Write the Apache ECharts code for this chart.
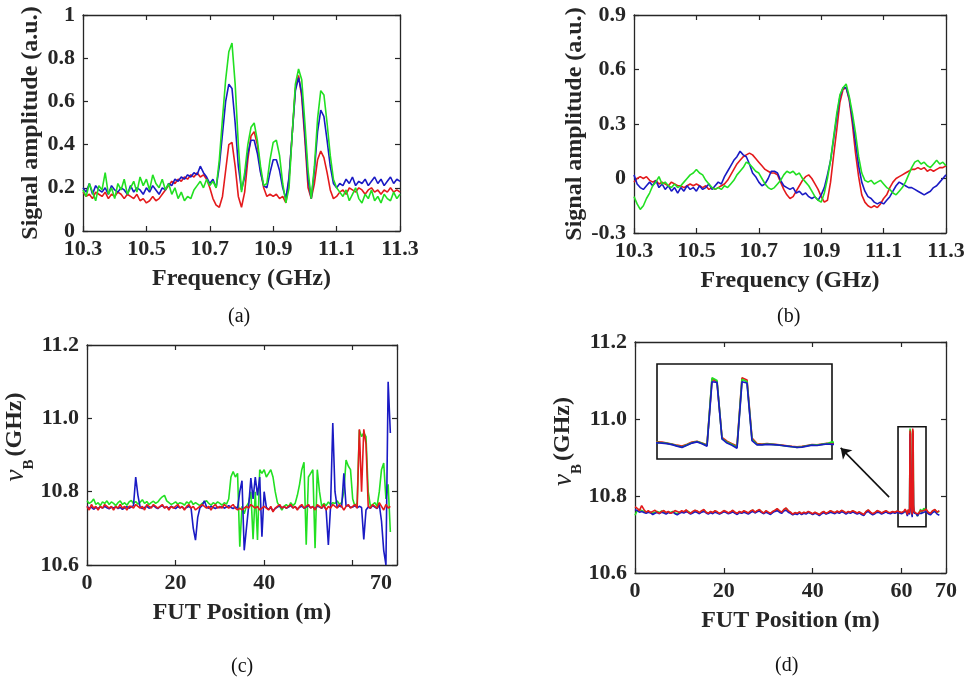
<!DOCTYPE html>
<html>
<head>
<meta charset="utf-8">
<title>BOTDA spectra and BFS profiles</title>
<script src="https://cdn.jsdelivr.net/npm/echarts@6.0.0/dist/echarts.min.js"></script>
<style>
  html, body { margin: 0; padding: 0; background: #fff; }
  #main { width: 968px; height: 680px; }
</style>
</head>
<body>
<div id="main"></div>
<script>
// ---- data ----
// (a), (b): spectra sampled every 10 MHz from 10.30 to 11.30 GHz
const freqStart = 10.3, freqStep = 0.01, freqCount = 101;

const aRed = [0.18,0.16,0.17,0.15,0.18,0.17,0.16,0.18,0.15,0.17,
  0.16,0.18,0.17,0.15,0.17,0.16,0.15,0.17,0.14,0.15,
  0.13,0.14,0.16,0.14,0.15,0.17,0.19,0.21,0.23,0.22,
  0.24,0.23,0.25,0.24,0.26,0.25,0.27,0.25,0.26,0.24,
  0.20,0.15,0.12,0.11,0.16,0.28,0.40,0.41,0.30,0.16,
  0.11,0.18,0.33,0.44,0.46,0.40,0.28,0.20,0.16,0.17,
  0.16,0.17,0.15,0.16,0.13,0.24,0.45,0.66,0.72,0.62,
  0.42,0.20,0.15,0.22,0.33,0.37,0.34,0.27,0.19,0.15,
  0.16,0.18,0.19,0.17,0.20,0.19,0.18,0.20,0.19,0.17,
  0.19,0.20,0.18,0.19,0.17,0.19,0.18,0.20,0.18,0.19,
  0.18];
const aBlue = [0.20,0.18,0.22,0.17,0.21,0.19,0.18,0.20,0.17,0.21,
  0.19,0.18,0.20,0.19,0.17,0.21,0.18,0.20,0.19,0.17,
  0.20,0.18,0.21,0.19,0.17,0.20,0.19,0.22,0.21,0.24,
  0.23,0.25,0.24,0.26,0.25,0.27,0.26,0.30,0.27,0.25,
  0.22,0.24,0.20,0.30,0.45,0.60,0.68,0.66,0.50,0.30,
  0.19,0.25,0.36,0.42,0.42,0.36,0.27,0.21,0.20,0.27,
  0.33,0.33,0.28,0.20,0.15,0.25,0.45,0.65,0.71,0.64,
  0.45,0.24,0.15,0.28,0.46,0.56,0.53,0.42,0.30,0.22,
  0.20,0.22,0.21,0.24,0.22,0.25,0.21,0.23,0.22,0.24,
  0.21,0.23,0.25,0.22,0.24,0.21,0.23,0.25,0.22,0.24,
  0.23];
const aGreen = [0.19,0.16,0.22,0.18,0.14,0.21,0.19,0.27,0.17,0.20,
  0.15,0.22,0.19,0.24,0.17,0.20,0.23,0.18,0.25,0.21,
  0.24,0.19,0.26,0.22,0.20,0.24,0.19,0.22,0.17,0.20,
  0.15,0.18,0.14,0.16,0.15,0.19,0.21,0.23,0.20,0.24,
  0.21,0.23,0.20,0.33,0.52,0.70,0.83,0.87,0.68,0.40,
  0.18,0.27,0.40,0.48,0.50,0.42,0.30,0.21,0.22,0.33,
  0.41,0.42,0.35,0.22,0.13,0.20,0.45,0.68,0.75,0.70,
  0.50,0.28,0.15,0.30,0.52,0.65,0.63,0.50,0.35,0.24,
  0.20,0.18,0.16,0.19,0.14,0.17,0.20,0.15,0.13,0.17,
  0.15,0.19,0.14,0.16,0.13,0.17,0.15,0.14,0.18,0.15,
  0.17];

const bRed = [-0.02,0.00,0.01,0.00,0.01,-0.01,-0.02,-0.01,-0.03,-0.02,
  -0.03,-0.04,-0.02,-0.03,-0.04,-0.04,-0.05,-0.04,-0.03,-0.04,
  -0.03,-0.04,-0.05,-0.04,-0.06,-0.05,-0.06,-0.05,-0.04,-0.03,
  -0.01,0.02,0.05,0.08,0.10,0.12,0.13,0.14,0.13,0.11,
  0.09,0.07,0.05,0.04,0.03,0.03,0.02,-0.02,-0.06,-0.09,
  -0.11,-0.10,-0.07,-0.04,-0.01,0.01,0.02,0.00,-0.03,-0.06,
  -0.10,-0.13,-0.12,-0.02,0.13,0.27,0.42,0.49,0.50,0.43,
  0.30,0.14,0.01,-0.09,-0.13,-0.15,-0.16,-0.15,-0.16,-0.14,
  -0.11,-0.09,-0.05,-0.02,0.00,0.01,0.02,0.03,0.04,0.05,
  0.05,0.06,0.05,0.06,0.04,0.05,0.04,0.05,0.06,0.06,
  0.07];
const bBlue = [0.02,-0.03,-0.05,-0.06,-0.04,-0.02,-0.04,-0.01,-0.05,-0.03,
  -0.06,-0.04,-0.07,-0.05,-0.08,-0.05,-0.07,-0.04,-0.06,-0.05,
  -0.07,-0.04,-0.06,-0.05,-0.03,-0.06,-0.04,-0.02,-0.03,0.01,
  0.04,0.07,0.10,0.12,0.15,0.13,0.12,0.08,0.03,0.01,
  -0.02,-0.04,-0.03,0.00,0.04,0.04,0.03,-0.01,-0.04,-0.05,
  -0.06,-0.05,-0.08,-0.07,-0.09,-0.08,-0.10,-0.11,-0.10,-0.12,
  -0.09,-0.05,0.02,0.10,0.22,0.34,0.45,0.50,0.50,0.44,
  0.33,0.20,0.07,-0.02,-0.07,-0.10,-0.11,-0.13,-0.14,-0.13,
  -0.14,-0.12,-0.10,-0.07,-0.04,-0.02,-0.03,-0.04,-0.05,-0.05,
  -0.06,-0.07,-0.08,-0.09,-0.08,-0.07,-0.05,-0.04,-0.02,0.00,
  0.02];
const bGreen = [-0.10,-0.14,-0.17,-0.15,-0.11,-0.08,-0.04,-0.02,0.01,-0.03,
  -0.02,-0.04,-0.05,-0.03,-0.05,-0.04,-0.02,0.00,0.02,0.03,
  0.05,0.03,0.02,-0.01,-0.03,-0.05,-0.06,-0.05,-0.06,-0.04,
  -0.05,-0.03,-0.01,0.02,0.04,0.06,0.09,0.08,0.06,0.04,
  0.03,0.00,-0.03,-0.05,-0.06,-0.05,-0.03,-0.01,0.02,0.04,
  0.03,0.04,0.02,0.03,0.00,-0.02,-0.04,-0.07,-0.10,-0.12,
  -0.13,-0.08,0.00,0.10,0.23,0.36,0.46,0.50,0.52,0.45,
  0.36,0.25,0.12,0.03,-0.01,-0.02,-0.01,-0.03,-0.02,-0.01,
  -0.03,-0.05,-0.06,-0.08,-0.09,-0.07,-0.05,-0.02,0.02,0.06,
  0.09,0.10,0.08,0.09,0.07,0.06,0.08,0.10,0.08,0.09,
  0.07];

// (c): BFS along the fibre, every 0.5 m from 0 to 68.5 m
const posStep = 0.5, cCount = 138;
const cRed = [10.76,10.75,10.765,10.755,10.76,10.75,10.76,10.755,10.765,10.76,
  10.755,10.76,10.75,10.76,10.755,10.765,10.755,10.76,10.75,10.76,
  10.76,10.755,10.765,10.76,10.755,10.76,10.75,10.765,10.76,10.755,
  10.765,10.76,10.755,10.76,10.765,10.755,10.76,10.75,10.76,10.755,
  10.76,10.765,10.755,10.76,10.75,10.76,10.765,10.755,10.76,10.75,
  10.755,10.76,10.765,10.76,10.755,10.76,10.75,10.76,10.765,10.755,
  10.76,10.755,10.765,10.76,10.755,10.76,10.765,10.755,10.75,10.755,
  10.75,10.755,10.76,10.755,10.765,10.76,10.755,10.76,10.75,10.755,
  10.76,10.755,10.75,10.76,10.745,10.755,10.76,10.765,10.755,10.76,
  10.755,10.76,10.765,10.755,10.76,10.75,10.76,10.765,10.755,10.76,
  10.765,10.755,10.76,10.75,10.765,10.76,10.755,10.765,10.75,10.76,
  10.755,10.765,10.76,10.755,10.765,10.76,10.75,10.76,10.765,10.755,
  10.76,10.765,10.755,10.97,10.8,10.97,10.93,10.76,10.755,10.765,
  10.76,10.755,10.77,10.76,10.75,10.765,10.755,10.76];
const cBlue = [10.76,10.755,10.758,10.752,10.757,10.754,10.759,10.755,10.76,10.756,
  10.753,10.758,10.755,10.759,10.754,10.757,10.752,10.756,10.759,10.755,
  10.758,10.762,10.84,10.79,10.758,10.754,10.757,10.76,10.755,10.758,
  10.762,10.757,10.754,10.759,10.762,10.756,10.758,10.755,10.76,10.757,
  10.754,10.759,10.756,10.758,10.753,10.757,10.76,10.755,10.7,10.668,
  10.73,10.756,10.762,10.775,10.758,10.755,10.76,10.757,10.754,10.758,
  10.756,10.759,10.755,10.758,10.762,10.757,10.754,10.758,10.755,10.8,
  10.83,10.64,10.7,10.76,10.837,10.78,10.84,10.79,10.84,10.677,
  10.8,10.757,10.752,10.756,10.748,10.754,10.758,10.761,10.756,10.759,
  10.755,10.758,10.762,10.756,10.759,10.753,10.757,10.761,10.755,10.758,
  10.762,10.756,10.759,10.752,10.761,10.758,10.755,10.762,10.75,10.655,
  10.76,10.987,10.8,10.757,10.761,10.758,10.85,10.76,10.762,10.757,
  10.758,10.762,10.756,10.76,10.757,10.67,10.75,10.758,10.755,10.762,
  10.758,10.754,10.765,10.72,10.64,10.6,11.1,10.96];
const cGreen = [10.775,10.768,10.772,10.78,10.765,10.77,10.762,10.772,10.768,10.775,
  10.765,10.772,10.768,10.762,10.77,10.775,10.765,10.77,10.763,10.772,
  10.776,10.768,10.773,10.766,10.771,10.778,10.768,10.773,10.765,10.77,
  10.774,10.768,10.772,10.78,10.786,10.79,10.775,10.77,10.765,10.768,
  10.772,10.766,10.77,10.768,10.763,10.772,10.768,10.775,10.765,10.77,
  10.766,10.762,10.768,10.772,10.775,10.768,10.763,10.77,10.766,10.772,
  10.768,10.763,10.77,10.766,10.78,10.84,10.855,10.84,10.85,10.65,
  10.76,10.74,10.76,10.77,10.8,10.67,10.8,10.668,10.86,10.85,
  10.86,10.84,10.85,10.86,10.84,10.8,10.77,10.76,10.75,10.76,
  10.765,10.758,10.77,10.762,10.768,10.79,10.82,10.86,10.88,10.655,
  10.84,10.85,10.86,10.646,10.86,10.8,10.76,10.768,10.762,10.772,
  10.765,10.77,10.768,10.775,10.766,10.77,10.8,10.886,10.87,10.86,
  10.78,10.76,10.77,10.968,10.95,10.96,10.95,10.8,10.76,10.765,
  10.77,10.76,10.8,10.86,10.878,10.78,10.82,10.69];

// (d): 0.5 m steps to 60.5 m, 0.1 m steps over the hot spot (60.8-64.3 m), 0.5 m steps 64.5-68.5 m
const dCoarseCount = 122, dFineStart = 60.8, dFineStep = 0.1, dFineCount = 36, dTailStart = 64.5, dTailCount = 9;
const dRedCoarse = [10.772,10.768,10.762,10.775,10.765,10.758,10.762,10.757,10.76,10.763,
  10.758,10.755,10.76,10.762,10.757,10.76,10.755,10.758,10.762,10.76,
  10.757,10.762,10.759,10.764,10.758,10.755,10.76,10.763,10.761,10.757,
  10.762,10.765,10.758,10.755,10.76,10.757,10.762,10.759,10.755,10.758,
  10.762,10.76,10.756,10.759,10.763,10.758,10.755,10.76,10.757,10.762,
  10.759,10.756,10.761,10.764,10.758,10.762,10.765,10.759,10.756,10.762,
  10.758,10.755,10.76,10.763,10.767,10.762,10.758,10.765,10.769,10.762,
  10.758,10.753,10.757,10.755,10.759,10.754,10.758,10.756,10.76,10.757,
  10.754,10.758,10.755,10.752,10.757,10.76,10.755,10.758,10.762,10.759,
  10.757,10.761,10.758,10.763,10.76,10.756,10.76,10.758,10.762,10.759,
  10.756,10.759,10.755,10.752,10.76,10.764,10.758,10.754,10.757,10.762,
  10.76,10.756,10.759,10.762,10.758,10.757,10.76,10.758,10.761,10.759,
  10.757,10.76];
const dRedFine = [10.766,10.765,10.762,10.759,10.755,10.752,10.758,10.765,10.768,10.762,
  10.756,10.97,10.962,10.78,10.768,10.76,10.752,10.975,10.968,10.778,
  10.76,10.759,10.76,10.759,10.757,10.755,10.753,10.751,10.75,10.751,
  10.754,10.757,10.756,10.759,10.761,10.76];
const dRedTail = [10.758,10.762,10.766,10.758,10.755,10.762,10.765,10.758,10.762];
const dBlueCoarse = [10.765,10.762,10.758,10.76,10.757,10.755,10.758,10.756,10.752,10.755,
  10.757,10.754,10.758,10.756,10.753,10.757,10.755,10.758,10.754,10.751,
  10.755,10.758,10.756,10.759,10.757,10.753,10.756,10.759,10.757,10.754,
  10.758,10.76,10.756,10.753,10.757,10.754,10.758,10.756,10.753,10.756,
  10.759,10.757,10.754,10.756,10.759,10.755,10.752,10.757,10.755,10.758,
  10.756,10.753,10.757,10.76,10.756,10.759,10.761,10.757,10.754,10.758,
  10.755,10.752,10.757,10.76,10.762,10.758,10.755,10.761,10.763,10.758,
  10.755,10.751,10.754,10.752,10.756,10.752,10.755,10.753,10.757,10.755,
  10.752,10.755,10.753,10.749,10.754,10.757,10.753,10.755,10.758,10.756,
  10.754,10.758,10.755,10.759,10.757,10.753,10.757,10.755,10.759,10.756,
  10.753,10.756,10.752,10.749,10.757,10.76,10.755,10.751,10.754,10.758,
  10.757,10.753,10.756,10.759,10.755,10.754,10.757,10.755,10.758,10.756,
  10.754,10.757];
const dBlueFine = [10.763,10.762,10.76,10.757,10.752,10.748,10.755,10.762,10.766,10.76,
  10.752,10.962,10.96,10.776,10.762,10.755,10.745,10.962,10.958,10.77,
  10.756,10.756,10.758,10.757,10.756,10.754,10.752,10.75,10.748,10.749,
  10.752,10.755,10.754,10.757,10.759,10.758];
const dBlueTail = [10.755,10.758,10.76,10.754,10.751,10.757,10.76,10.753,10.75];
const dGreenCoarse = [10.75,10.762,10.765,10.762,10.76,10.757,10.76,10.758,10.755,10.758,
  10.76,10.757,10.761,10.758,10.755,10.759,10.757,10.76,10.756,10.754,
  10.758,10.76,10.758,10.762,10.76,10.756,10.758,10.762,10.76,10.756,
  10.76,10.763,10.758,10.755,10.759,10.756,10.761,10.758,10.754,10.757,
  10.761,10.759,10.755,10.758,10.762,10.757,10.754,10.759,10.756,10.76,
  10.758,10.755,10.76,10.763,10.757,10.761,10.764,10.759,10.755,10.76,
  10.757,10.754,10.759,10.762,10.766,10.76,10.757,10.763,10.768,10.76,
  10.757,10.752,10.756,10.754,10.758,10.753,10.757,10.755,10.759,10.756,
  10.753,10.757,10.754,10.751,10.756,10.759,10.754,10.757,10.761,10.758,
  10.756,10.76,10.757,10.762,10.759,10.755,10.759,10.757,10.761,10.758,
  10.755,10.758,10.754,10.751,10.759,10.763,10.757,10.753,10.756,10.761,
  10.759,10.755,10.758,10.761,10.757,10.756,10.759,10.757,10.76,10.758,
  10.756,10.759];
const dGreenFine = [10.764,10.763,10.761,10.758,10.753,10.749,10.756,10.763,10.767,10.761,
  10.754,10.975,10.966,10.776,10.765,10.757,10.748,10.97,10.962,10.774,
  10.758,10.757,10.759,10.758,10.756,10.754,10.752,10.75,10.748,10.75,
  10.753,10.756,10.755,10.758,10.76,10.766];
const dGreenTail = [10.757,10.768,10.764,10.757,10.754,10.76,10.764,10.757,10.76];

// axis ticks
const freqTicks = { min: 10.3, max: 11.3, step: 0.2 };
const ampTicksA = { min: 0, max: 1, step: 0.2 };
const ampTicksB = { min: -0.3, max: 0.9, step: 0.3 };
const posTicks = { min: 0, max: 70, step: 20 };
const bfsTicks = { min: 10.6, max: 11.2, step: 0.2 };
// zoomed region shown in the inset of (d) and the box drawn round it
const insetX = [60.8, 64.3], insetY = [10.71, 11.02];
const boxX = [59.2, 65.5], boxY = [10.72, 10.98];
const arrowFrom = [57.2, 10.797], arrowTo = [46.3, 10.925];

// ---- build ----
const freq = [];
for (let i = 0; i < freqCount; i++) freq.push(+(freqStart + i * freqStep).toFixed(2));
const posC = [];
for (let i = 0; i < cCount; i++) posC.push(i * posStep);
const posD = [];
for (let i = 0; i < dCoarseCount; i++) posD.push(i * posStep);
for (let i = 0; i < dFineCount; i++) posD.push(+(dFineStart + i * dFineStep).toFixed(1));
for (let i = 0; i < dTailCount; i++) posD.push(dTailStart + i * posStep);
const dRed = dRedCoarse.concat(dRedFine, dRedTail);
const dBlue = dBlueCoarse.concat(dBlueFine, dBlueTail);
const dGreen = dGreenCoarse.concat(dGreenFine, dGreenTail);

const pairs = (xs, ys) => ys.map((y, i) => [xs[i], y]);

const RED = '#e41a1c', BLUE = '#1a1ac4', GREEN = '#22e022';
const INK = '#262626';
const FONT = 'Liberation Serif';
const f1 = v => v.toFixed(1);

function xAxes(g, t, fmt, name, nameGap, rich) {
    const common = {
        type: 'value', gridIndex: g, min: t.min, max: t.max, interval: t.step,
        axisLine: { onZero: false, lineStyle: { color: INK, width: 1.3 } },
        axisTick: { inside: true, length: 5, lineStyle: { color: INK, width: 1.2 } },
        splitLine: { show: false }
    };
    return [
        Object.assign({}, common, {
            position: 'bottom',
            axisLabel: { color: INK, fontFamily: FONT, fontWeight: 'bold', fontSize: 22, margin: 7,
                         showMinLabel: true, showMaxLabel: true, formatter: fmt, rich: rich },
            name: name, nameLocation: 'middle', nameGap: 36,
            nameTextStyle: { color: INK, fontFamily: FONT, fontWeight: 'bold', fontSize: 24 }
        }),
        Object.assign({}, common, { position: 'top', axisLabel: { show: false } })
    ];
}

function yAxes(g, t, fmt, name, nameGap, nameStyle) {
    const common = {
        type: 'value', gridIndex: g, min: t.min, max: t.max, interval: t.step,
        axisLine: { onZero: false, lineStyle: { color: INK, width: 1.3 } },
        axisTick: { inside: true, length: 5, lineStyle: { color: INK, width: 1.2 } },
        splitLine: { show: false }
    };
    return [
        Object.assign({}, common, {
            position: 'left',
            axisLabel: { color: INK, fontFamily: FONT, fontWeight: 'bold', fontSize: 22, margin: 8,
                         showMinLabel: true, showMaxLabel: true, formatter: fmt },
            name: name, nameLocation: 'middle', nameGap: nameGap,
            nameTextStyle: nameStyle || { color: INK, fontFamily: FONT, fontWeight: 'bold', fontSize: 24 }
        }),
        Object.assign({}, common, { position: 'right', axisLabel: { show: false } })
    ];
}

const nuStyle = (shift) => ({
    color: INK,
    rich: {
        nu: { fontFamily: FONT, fontStyle: 'italic', fontSize: 27, color: INK, verticalAlign: 'top', lineHeight: 26, padding: [0, 0, 0, shift] },
        sub: { fontFamily: FONT, fontWeight: 'bold', fontSize: 15, color: INK, verticalAlign: 'top', lineHeight: 16, padding: [19, 3, 0, 0] },
        t: { fontFamily: FONT, fontWeight: 'bold', fontSize: 24, color: INK, verticalAlign: 'top', lineHeight: 26 }
    }
});
const nuName = '{nu|ν}{sub|B}{t|(GHz)}';

// (c) lost its "60" label and shows "70" shifted left
const cPosFmt = v => (v === 60 ? '' : v === 70 ? '{s|70}' : String(v));
const cPosRich = { s: { fontFamily: FONT, fontWeight: 'bold', fontSize: 22, color: INK, padding: [0, 32, 0, 0] } };

function line(name, color, xi, yi, data, extra) {
    return Object.assign({
        name: name, type: 'line', xAxisIndex: xi, yAxisIndex: yi, data: data,
        showSymbol: false, symbol: 'none', lineStyle: { color: color, width: 1.6 },
        itemStyle: { color: color }, animation: false, silent: true
    }, extra || {});
}

const chart = echarts.init(document.getElementById('main'), null, { renderer: 'canvas' });

const xs = [].concat(
    xAxes(0, freqTicks, f1, 'Frequency (GHz)'),
    xAxes(1, freqTicks, f1, 'Frequency (GHz)'),
    xAxes(2, posTicks, cPosFmt, 'FUT Position (m)', 0, cPosRich),
    xAxes(3, posTicks, v => String(v), 'FUT Position (m)'),
    [{ type: 'value', gridIndex: 4, min: insetX[0], max: insetX[1], show: false }]
);
const ys = [].concat(
    yAxes(0, ampTicksA, v => String(+v.toFixed(1)), 'Signal amplitude (a.u.)', 40),
    yAxes(1, ampTicksB, v => String(+v.toFixed(1)), 'Signal amplitude (a.u.)', 46),
    yAxes(2, bfsTicks, f1, nuName, 41, nuStyle(36)),
    yAxes(3, bfsTicks, f1, nuName, 41, nuStyle(32)),
    [{ type: 'value', gridIndex: 4, min: insetY[0], max: insetY[1], show: false }]
);

const option = {
    backgroundColor: '#ffffff',
    animation: false,
    grid: [
        { left: 83, top: 15, width: 317, height: 216 },
        { left: 634, top: 15, width: 312, height: 218 },
        { left: 87, top: 345, width: 310, height: 220 },
        { left: 635, top: 342, width: 311, height: 231 },
        { left: 657, top: 364, width: 175, height: 95, show: true, backgroundColor: '#fff',
          borderColor: '#111', borderWidth: 1.6, z: 5 }
    ],
    xAxis: xs,
    yAxis: ys,
    series: [
        line('a-red', RED, 0, 0, pairs(freq, aRed)),
        line('a-blue', BLUE, 0, 0, pairs(freq, aBlue)),
        line('a-green', GREEN, 0, 0, pairs(freq, aGreen)),

        line('b-red', RED, 2, 2, pairs(freq, bRed)),
        line('b-blue', BLUE, 2, 2, pairs(freq, bBlue)),
        line('b-green', GREEN, 2, 2, pairs(freq, bGreen)),

        line('c-green', GREEN, 4, 4, pairs(posC, cGreen)),
        line('c-blue', BLUE, 4, 4, pairs(posC, cBlue)),
        line('c-red', RED, 4, 4, pairs(posC, cRed)),

        line('d-green', GREEN, 6, 6, pairs(posD, dGreen), {
            markArea: {
                silent: true,
                itemStyle: { color: 'rgba(0,0,0,0)', borderColor: '#111', borderWidth: 1.6 },
                data: [[{ coord: [boxX[0], boxY[1]] }, { coord: [boxX[1], boxY[0]] }]]
            },
            markLine: {
                silent: true, animation: false,
                symbol: ['none', 'arrow'], symbolSize: 10,
                label: { show: false },
                lineStyle: { color: '#111', width: 1.6, type: 'solid' },
                data: [[{ coord: arrowFrom }, { coord: arrowTo }]]
            }
        }),
        line('d-blue', BLUE, 6, 6, pairs(posD, dBlue)),
        line('d-red', RED, 6, 6, pairs(posD, dRed)),

        line('inset-red', RED, 8, 8, pairs(posD, dRed), { z: 6, lineStyle: { color: RED, width: 1.7 } }),
        line('inset-green', GREEN, 8, 8, pairs(posD, dGreen), { z: 6, lineStyle: { color: GREEN, width: 1.7 } }),
        line('inset-blue', BLUE, 8, 8, pairs(posD, dBlue), { z: 6, lineStyle: { color: BLUE, width: 1.7 } })
    ],
    graphic: [
        { type: 'text', left: 228, top: 307, style: { text: '(a)', font: '20px "Liberation Serif"', fill: '#111' } },
        { type: 'text', left: 777, top: 307, style: { text: '(b)', font: '20px "Liberation Serif"', fill: '#111' } },
        { type: 'text', left: 231, top: 657, style: { text: '(c)', font: '20px "Liberation Serif"', fill: '#111' } },
        { type: 'text', left: 775, top: 656, style: { text: '(d)', font: '20px "Liberation Serif"', fill: '#111' } }
    ]
};

chart.setOption(option);

window.addEventListener('resize', function () {
    chart.resize();
});
</script>
</body>
</html>
